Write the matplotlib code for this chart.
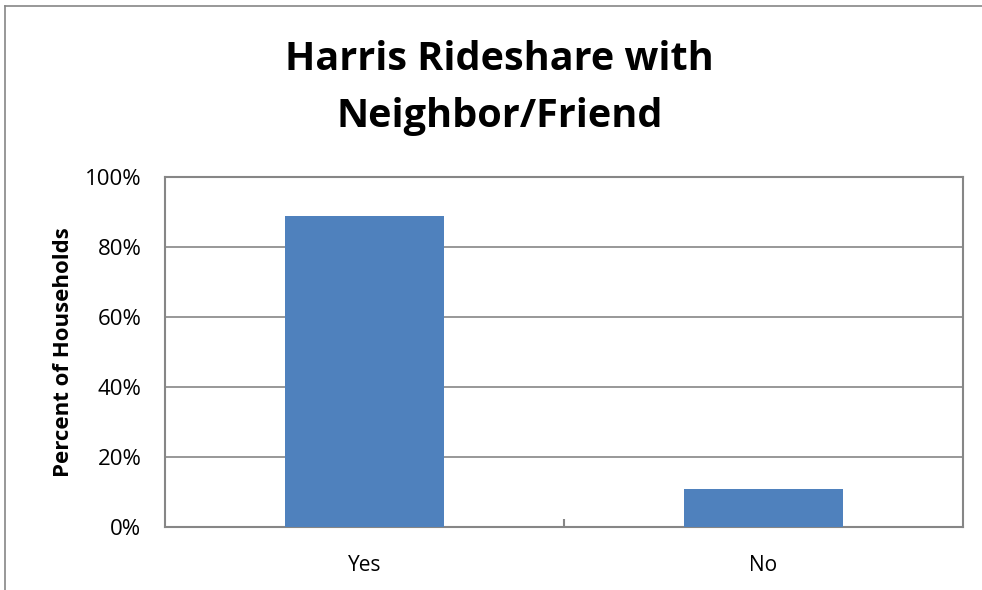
import matplotlib.pyplot as plt
from matplotlib.lines import Line2D
from matplotlib.ticker import FuncFormatter, FixedLocator

categories = ["Yes", "No"]
percent_households = [89, 11]
y_ticks = [0, 20, 40, 60, 80, 100]

plt.rcParams['font.family'] = ['Open Sans', 'DejaVu Sans']

fig = plt.figure(figsize=(9.82, 5.9), dpi=100)
ax = fig.add_axes([165 / 982, 1 - 527 / 590, (963 - 165) / 982, (527 - 177) / 590])

x = range(len(categories))
ax.bar(x, percent_households, width=0.4, color='#4f81bd', zorder=3)

ax.set_xlim(-0.5, 1.5)
ax.set_ylim(0, 100)
ax.set_yticks(y_ticks)
ax.yaxis.set_major_formatter(FuncFormatter(lambda v, p: f"{v:.0f}%"))
ax.set_xticks(list(x))
ax.set_xticklabels(categories)
ax.tick_params(axis='x', length=0, labelsize=15, pad=20)
ax.tick_params(axis='y', length=0, labelsize=16, pad=17)
# category separator tick
ax.xaxis.set_minor_locator(FixedLocator([0.5]))
ax.tick_params(axis='x', which='minor', direction='in', length=6, width=1.5, color='#868686')

ax.grid(axis='y', color='#868686', linewidth=1.2, zorder=0)
for s in ax.spines.values():
    s.set_color('#868686')
    s.set_linewidth(1.5)

ax.set_ylabel('Percent of Households', fontsize=16, fontweight='bold', labelpad=8)

fig.text(0.509, 0.9, 'Harris Rideshare with', ha='center', va='center',
         fontsize=28.5, fontweight='bold')
fig.text(0.509, 0.803, 'Neighbor/Friend', ha='center', va='center',
         fontsize=28.5, fontweight='bold')

# outer chart frame (cropped)
fig.add_artist(Line2D([5 / 982, 1], [1 - 6 / 590, 1 - 6 / 590], color='#868686', linewidth=1.2))
fig.add_artist(Line2D([5 / 982, 5 / 982], [0, 1 - 6 / 590], color='#868686', linewidth=1.2))

fig.savefig('out.png', dpi=100)
